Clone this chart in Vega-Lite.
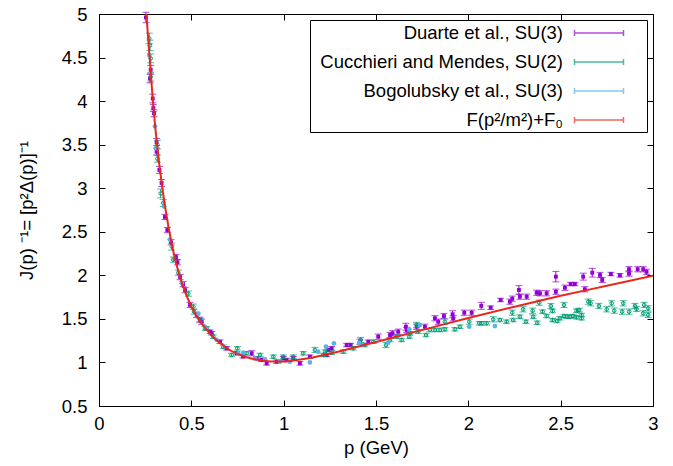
{
"$schema": "https://vega.github.io/schema/vega-lite/v6.json",
"width": 554, "height": 392,
"autosize": {"type": "none"},
"padding": {"left": 99, "top": 14, "right": 20, "bottom": 60},
"config": {
 "font": "Liberation Sans",
 "view": {"stroke": "black", "strokeWidth": 1},
 "axis": {"domain": false, "grid": false, "ticks": true, "tickColor": "black", "tickWidth": 1, "tickSize": -6,
   "labelColor": "black", "labelFontSize": 18.5, "labelFont": "Liberation Sans", "titleFont": "Liberation Sans",
   "titleFontSize": 18.5, "titleFontWeight": "normal", "titleColor": "black", "labelOverlap": false, "labelFlush": false}
},
"datasets": {
 "D": [
  {"p":0.254,"y":4.96,"e":0.06},{"p":0.276,"y":4.26,"e":0.05},{"p":0.28,"y":4.36,"e":0.05},{"p":0.291,"y":4.03,"e":0.05},
  {"p":0.294,"y":3.92,"e":0.04},{"p":0.298,"y":3.86,"e":0.04},{"p":0.312,"y":3.53,"e":0.04},{"p":0.312,"y":3.42,"e":0.04},
  {"p":0.327,"y":3.21,"e":0.04},{"p":0.339,"y":3.06,"e":0.04},{"p":0.357,"y":2.67,"e":0.03},{"p":0.37,"y":2.52,"e":0.03},
  {"p":0.39,"y":2.38,"e":0.03},{"p":0.417,"y":2.21,"e":0.03},{"p":0.425,"y":2.15,"e":0.03},{"p":0.439,"y":1.98,"e":0.03},
  {"p":0.455,"y":1.9,"e":0.03},{"p":0.466,"y":1.83,"e":0.03},{"p":0.493,"y":1.66,"e":0.03},{"p":0.529,"y":1.545,"e":0.03},
  {"p":0.547,"y":1.49,"e":0.03},{"p":0.556,"y":1.468,"e":0.03},{"p":0.601,"y":1.353,"e":0.02},{"p":0.61,"y":1.335,"e":0.02},
  {"p":0.655,"y":1.238,"e":0.02},{"p":0.691,"y":1.162,"e":0.02},{"p":0.746,"y":1.105,"e":0.02},{"p":0.78,"y":1.07,"e":0.02},
  {"p":0.827,"y":1.105,"e":0.03},{"p":0.854,"y":1.048,"e":0.02},{"p":0.88,"y":1.03,"e":0.02},{"p":0.908,"y":0.99,"e":0.02},
  {"p":0.962,"y":1.009,"e":0.02},{"p":0.998,"y":1.048,"e":0.02},{"p":1.016,"y":1.028,"e":0.02},{"p":1.052,"y":1.048,"e":0.02},
  {"p":1.088,"y":0.99,"e":0.02},{"p":1.142,"y":1.066,"e":0.02},{"p":1.233,"y":1.086,"e":0.02},{"p":1.242,"y":1.143,"e":0.02},
  {"p":1.26,"y":1.162,"e":0.02},{"p":1.341,"y":1.2,"e":0.02},{"p":1.363,"y":1.2,"e":0.02},{"p":1.413,"y":1.238,"e":0.03},
  {"p":1.458,"y":1.238,"e":0.02},{"p":1.512,"y":1.296,"e":0.03},{"p":1.576,"y":1.315,"e":0.03},{"p":1.59,"y":1.335,"e":0.03},
  {"p":1.62,"y":1.353,"e":0.03},{"p":1.662,"y":1.41,"e":0.04},{"p":1.666,"y":1.373,"e":0.03},{"p":1.72,"y":1.41,"e":0.03},
  {"p":1.765,"y":1.41,"e":0.03},{"p":1.819,"y":1.507,"e":0.03},{"p":1.837,"y":1.468,"e":0.03},{"p":1.868,"y":1.533,"e":0.03},
  {"p":1.915,"y":1.553,"e":0.04},{"p":1.918,"y":1.507,"e":0.03},{"p":1.978,"y":1.571,"e":0.03},{"p":2.018,"y":1.571,"e":0.03},
  {"p":2.07,"y":1.65,"e":0.04},{"p":2.121,"y":1.629,"e":0.02},{"p":2.175,"y":1.717,"e":0.02},{"p":2.225,"y":1.698,"e":0.03},
  {"p":2.238,"y":1.732,"e":0.03},{"p":2.274,"y":1.832,"e":0.05},{"p":2.279,"y":1.755,"e":0.03},{"p":2.316,"y":1.755,"e":0.03},
  {"p":2.37,"y":1.8,"e":0.03},{"p":2.388,"y":1.794,"e":0.03},{"p":2.424,"y":1.794,"e":0.03},{"p":2.474,"y":1.985,"e":0.06},
  {"p":2.474,"y":1.812,"e":0.03},{"p":2.523,"y":1.858,"e":0.03},{"p":2.554,"y":1.9,"e":0.02},{"p":2.577,"y":1.9,"e":0.02},
  {"p":2.622,"y":1.985,"e":0.04},{"p":2.631,"y":1.84,"e":0.03},{"p":2.671,"y":2.03,"e":0.05},{"p":2.713,"y":2.004,"e":0.03},
  {"p":2.725,"y":1.947,"e":0.03},{"p":2.772,"y":2.015,"e":0.02},{"p":2.821,"y":2.0,"e":0.02},{"p":2.87,"y":2.07,"e":0.03},
  {"p":2.87,"y":2.02,"e":0.03},{"p":2.917,"y":2.07,"e":0.03},{"p":2.947,"y":2.07,"e":0.03},{"p":2.965,"y":2.04,"e":0.03}
 ],
 "C": [
  {"p":0.272,"y":4.72,"e":0.06},{"p":0.276,"y":4.64,"e":0.06},{"p":0.28,"y":4.49,"e":0.05},{"p":0.28,"y":4.28,"e":0.05},
  {"p":0.316,"y":3.5,"e":0.05},{"p":0.316,"y":3.34,"e":0.04},{"p":0.334,"y":2.94,"e":0.05},{"p":0.348,"y":2.83,"e":0.04},
  {"p":0.394,"y":2.33,"e":0.04},{"p":0.402,"y":2.18,"e":0.03},{"p":0.43,"y":2.03,"e":0.03},{"p":0.484,"y":1.79,"e":0.03},
  {"p":0.511,"y":1.64,"e":0.03},{"p":0.515,"y":1.583,"e":0.03},{"p":0.547,"y":1.487,"e":0.02},{"p":0.574,"y":1.39,"e":0.02},
  {"p":0.583,"y":1.392,"e":0.02},{"p":0.619,"y":1.296,"e":0.02},{"p":0.673,"y":1.181,"e":0.02},{"p":0.718,"y":1.086,"e":0.02},
  {"p":0.749,"y":1.162,"e":0.02},{"p":0.8,"y":1.105,"e":0.02},{"p":0.872,"y":1.086,"e":0.02},{"p":0.944,"y":1.066,"e":0.02},
  {"p":0.998,"y":1.066,"e":0.02},{"p":1.052,"y":1.066,"e":0.02},{"p":1.106,"y":1.105,"e":0.02},{"p":1.169,"y":1.143,"e":0.03},
  {"p":1.215,"y":1.086,"e":0.02},{"p":1.224,"y":1.124,"e":0.02},{"p":1.26,"y":1.112,"e":0.02},{"p":1.323,"y":1.124,"e":0.02},
  {"p":1.377,"y":1.162,"e":0.02},{"p":1.417,"y":1.258,"e":0.03},{"p":1.44,"y":1.2,"e":0.02},{"p":1.485,"y":1.238,"e":0.02},
  {"p":1.554,"y":1.2,"e":0.03},{"p":1.576,"y":1.258,"e":0.02},{"p":1.612,"y":1.296,"e":0.02},{"p":1.639,"y":1.258,"e":0.02},
  {"p":1.68,"y":1.296,"e":0.02},{"p":1.684,"y":1.335,"e":0.02},{"p":1.72,"y":1.43,"e":0.03},{"p":1.729,"y":1.353,"e":0.02},
  {"p":1.771,"y":1.315,"e":0.02},{"p":1.792,"y":1.373,"e":0.02},{"p":1.819,"y":1.373,"e":0.02},{"p":1.846,"y":1.373,"e":0.02},
  {"p":1.873,"y":1.468,"e":0.03},{"p":1.873,"y":1.38,"e":0.02},{"p":1.927,"y":1.38,"e":0.02},{"p":1.955,"y":1.41,"e":0.02},
  {"p":2.005,"y":1.468,"e":0.03},{"p":2.059,"y":1.45,"e":0.02},{"p":2.072,"y":1.45,"e":0.02},{"p":2.099,"y":1.45,"e":0.02},
  {"p":2.135,"y":1.495,"e":0.03},{"p":2.171,"y":1.487,"e":0.02},{"p":2.207,"y":1.468,"e":0.02},{"p":2.238,"y":1.571,"e":0.03},
  {"p":2.243,"y":1.487,"e":0.02},{"p":2.279,"y":1.525,"e":0.02},{"p":2.297,"y":1.61,"e":0.03},{"p":2.312,"y":1.468,"e":0.02},
  {"p":2.348,"y":1.594,"e":0.03},{"p":2.351,"y":1.525,"e":0.02},{"p":2.373,"y":1.456,"e":0.02},{"p":2.384,"y":1.686,"e":0.03},
  {"p":2.402,"y":1.583,"e":0.02},{"p":2.424,"y":1.533,"e":0.02},{"p":2.447,"y":1.648,"e":0.03},{"p":2.456,"y":1.591,"e":0.02},
  {"p":2.456,"y":1.487,"e":0.02},{"p":2.481,"y":1.476,"e":0.02},{"p":2.496,"y":1.507,"e":0.02},{"p":2.518,"y":1.66,"e":0.03},
  {"p":2.518,"y":1.533,"e":0.02},{"p":2.535,"y":1.525,"e":0.02},{"p":2.55,"y":1.525,"e":0.02},{"p":2.568,"y":1.533,"e":0.02},
  {"p":2.586,"y":1.594,"e":0.02},{"p":2.586,"y":1.518,"e":0.02},{"p":2.6,"y":1.602,"e":0.02},{"p":2.613,"y":1.545,"e":0.02},
  {"p":2.613,"y":1.507,"e":0.02},{"p":2.65,"y":1.698,"e":0.03},{"p":2.662,"y":1.679,"e":0.03},{"p":2.707,"y":1.648,"e":0.03},
  {"p":2.749,"y":1.61,"e":0.03},{"p":2.776,"y":1.679,"e":0.03},{"p":2.79,"y":1.594,"e":0.03},{"p":2.833,"y":1.583,"e":0.03},
  {"p":2.839,"y":1.679,"e":0.03},{"p":2.871,"y":1.583,"e":0.03},{"p":2.902,"y":1.648,"e":0.03},{"p":2.911,"y":1.614,"e":0.03},
  {"p":2.947,"y":1.564,"e":0.03},{"p":2.952,"y":1.66,"e":0.03},{"p":2.974,"y":1.621,"e":0.03},{"p":2.974,"y":1.545,"e":0.03}
 ],
 "B": [
  {"p":0.272,"y":4.53},{"p":0.303,"y":3.71},{"p":0.309,"y":3.46},{"p":0.352,"y":2.79},{"p":0.384,"y":2.41},{"p":0.448,"y":1.91},
  {"p":0.538,"y":1.56},{"p":0.574,"y":1.41},{"p":0.637,"y":1.258},{"p":0.754,"y":1.105},{"p":0.781,"y":1.112},{"p":0.845,"y":1.048},
  {"p":0.899,"y":1.036},{"p":0.98,"y":1.009},{"p":1.034,"y":1.009},{"p":1.142,"y":1.0},{"p":1.187,"y":1.124},{"p":1.229,"y":1.181},
  {"p":1.272,"y":1.22},{"p":1.409,"y":1.227},{"p":1.566,"y":1.227},{"p":1.68,"y":1.38},{"p":1.738,"y":1.43},{"p":2.005,"y":1.41},
  {"p":2.144,"y":1.418}
 ],
 "F": [
  {"p":0.257,"y":5.0},{"p":0.265,"y":4.75},{"p":0.276,"y":4.45},{"p":0.29,"y":4.05},{"p":0.312,"y":3.55},{"p":0.343,"y":3.0},
  {"p":0.375,"y":2.57},{"p":0.405,"y":2.25},{"p":0.433,"y":2.02},{"p":0.475,"y":1.76},{"p":0.53,"y":1.525},{"p":0.57,"y":1.41},
  {"p":0.61,"y":1.31},{"p":0.66,"y":1.215},{"p":0.71,"y":1.14},{"p":0.76,"y":1.09},{"p":0.8,"y":1.06},{"p":0.86,"y":1.03},
  {"p":0.93,"y":1.012},{"p":1.0,"y":1.012},{"p":1.07,"y":1.028},{"p":1.15,"y":1.055},{"p":1.25,"y":1.1},{"p":1.4,"y":1.18},
  {"p":1.6,"y":1.29},{"p":1.8,"y":1.4},{"p":2.0,"y":1.51},{"p":2.25,"y":1.64},{"p":2.5,"y":1.765},{"p":2.75,"y":1.88},{"p":3.0,"y":1.995}
 ]
},
"encoding": {
 "x": {"field": "p", "type": "quantitative", "scale": {"domain": [0, 3], "nice": false, "zero": false}, "axis": null},
 "y": {"field": "y", "type": "quantitative", "scale": {"domain": [0.5, 5], "nice": false, "zero": false}, "axis": null}
},
"layer": [
 {"data": {"name": "D"},
  "mark": {"type": "errorbar", "ticks": true, "size": 7, "thickness": 1},
  "encoding": {"yError": {"field": "e"},
   "color": {"datum": "Duarte et al., SU(3)", "type": "nominal",
     "scale": {"domain": ["Duarte et al., SU(3)", "Cucchieri and Mendes, SU(2)", "Bogolubsky et al., SU(3)", "F(p²/m²)+F₀"], "range": ["#9400D3", "#009E73", "#56B4E9", "#E8281E"]}}
  }},
 {"data": {"name": "D"},
  "mark": {"type": "square", "filled": true, "size": 15, "opacity": 1},
  "encoding": {
   "x": {"field": "p", "type": "quantitative", "scale": {"domain": [0, 3], "nice": false, "zero": false},
     "axis": {"orient": "bottom", "values": [0, 0.5, 1, 1.5, 2, 2.5, 3], "format": "~g", "labelPadding": 14,
       "title": "p (GeV)", "titleY": 47, "titleBaseline": "alphabetic"}},
   "y": {"field": "y", "type": "quantitative", "scale": {"domain": [0.5, 5], "nice": false, "zero": false},
     "axis": {"orient": "left", "values": [0.5, 1, 1.5, 2, 2.5, 3, 3.5, 4, 4.5, 5], "format": "~g", "labelPadding": 18,
       "title": "J(p) ⁻¹= [p²Δ(p)]⁻¹", "titleX": -67, "titleY": 196, "titleBaseline": "alphabetic", "titleAngle": 270}},
   "color": {"datum": "Duarte et al., SU(3)", "type": "nominal",
     "scale": {"domain": ["Duarte et al., SU(3)", "Cucchieri and Mendes, SU(2)", "Bogolubsky et al., SU(3)", "F(p²/m²)+F₀"], "range": ["#9400D3", "#009E73", "#56B4E9", "#E8281E"]}}
  }},
 {"data": {"name": "C"},
  "mark": {"type": "errorbar", "ticks": true, "size": 7, "thickness": 1},
  "encoding": {"yError": {"field": "e"},
   "color": {"datum": "Cucchieri and Mendes, SU(2)", "type": "nominal",
     "scale": {"domain": ["Duarte et al., SU(3)", "Cucchieri and Mendes, SU(2)", "Bogolubsky et al., SU(3)", "F(p²/m²)+F₀"], "range": ["#9400D3", "#009E73", "#56B4E9", "#E8281E"]}}
  }},
 {"data": {"name": "C"},
  "mark": {"type": "point", "shape": "circle", "filled": false, "size": 13, "strokeWidth": 1, "opacity": 1},
  "encoding": {
   "color": {"datum": "Cucchieri and Mendes, SU(2)", "type": "nominal",
     "scale": {"domain": ["Duarte et al., SU(3)", "Cucchieri and Mendes, SU(2)", "Bogolubsky et al., SU(3)", "F(p²/m²)+F₀"], "range": ["#9400D3", "#009E73", "#56B4E9", "#E8281E"]}}
  }},
 {"data": {"name": "B"},
  "mark": {"type": "circle", "size": 22, "opacity": 1},
  "encoding": {
   "color": {"datum": "Bogolubsky et al., SU(3)", "type": "nominal",
     "scale": {"domain": ["Duarte et al., SU(3)", "Cucchieri and Mendes, SU(2)", "Bogolubsky et al., SU(3)", "F(p²/m²)+F₀"], "range": ["#9400D3", "#009E73", "#56B4E9", "#E8281E"]}}
  }},
 {"data": {"name": "F"},
  "mark": {"type": "line", "strokeWidth": 2, "interpolate": "monotone", "clip": true},
  "encoding": {
   "x": {"field": "p", "type": "quantitative", "scale": {"domain": [0, 3], "nice": false, "zero": false},
     "axis": {"orient": "top", "values": [0, 0.5, 1, 1.5, 2, 2.5, 3], "labels": false, "title": null}},
   "y": {"field": "y", "type": "quantitative", "scale": {"domain": [0.5, 5], "nice": false, "zero": false},
     "axis": {"orient": "right", "values": [0.5, 1, 1.5, 2, 2.5, 3, 3.5, 4, 4.5, 5], "labels": false, "title": null}},
   "color": {"datum": "F(p²/m²)+F₀", "type": "nominal",
     "scale": {"domain": ["Duarte et al., SU(3)", "Cucchieri and Mendes, SU(2)", "Bogolubsky et al., SU(3)", "F(p²/m²)+F₀"], "range": ["#9400D3", "#009E73", "#56B4E9", "#E8281E"]},
     "legend": {"orient": "top-right", "offset": 6, "title": null, "strokeColor": "black", "fillColor": "white", "padding": 2,
       "labelFontSize": 18.5, "labelFont": "Liberation Sans", "labelColor": "black", "labelAlign": "right", "labelLimit": 500,
       "labelOffset": -47, "symbolOffset": 276, "symbolSize": 400, "rowPadding": 8, "symbolStrokeWidth": 1.5, "symbolOpacity": 1,
       "symbolType": "M-2.45,0H2.45M-2.45,-0.3V0.3M2.45,-0.3V0.3M4.25,0"}}
  }}
],
"resolve": {"axis": {"x": "independent", "y": "independent"}}
}
